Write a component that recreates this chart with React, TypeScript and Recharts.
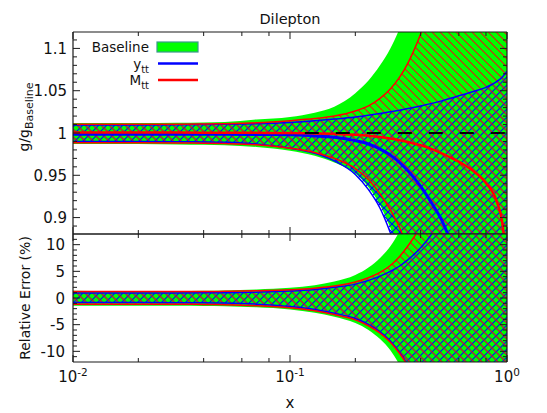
import React from 'react';
import { ComposedChart, Area, Line, XAxis, YAxis, ReferenceLine, Legend } from 'recharts';

// ---------- data ----------
const xValues = [0.01, 0.015, 0.02, 0.03, 0.04, 0.05, 0.07, 0.1, 0.13, 0.16, 0.2, 0.23, 0.26, 0.29, 0.32, 0.35, 0.4, 0.45, 0.5, 0.55, 0.6, 0.7, 0.8, 0.9, 0.95, 1.0];

// top panel: g / g_Baseline
const baselineUpper = [1.0118, 1.0118, 1.0118, 1.012, 1.0125, 1.013, 1.016, 1.019, 1.024, 1.031, 1.047, 1.062, 1.08, 1.1, 1.124, 1.155, 1.21, 1.27, 1.33, 1.4, 1.47, 1.6, 1.75, 1.9, 2.0, 2.1];
const baselineLower = [0.987, 0.987, 0.987, 0.9865, 0.986, 0.9855, 0.9835, 0.979, 0.973, 0.965, 0.952, 0.936, 0.915, 0.888, 0.86, 0.825, 0.77, 0.7, 0.63, 0.56, 0.49, 0.36, 0.24, 0.13, 0.08, 0.03];
const yttUpper = [1.0095, 1.0095, 1.0095, 1.0097, 1.01, 1.0103, 1.011, 1.0125, 1.0145, 1.0165, 1.019, 1.021, 1.023, 1.025, 1.027, 1.029, 1.032, 1.035, 1.038, 1.041, 1.044, 1.049, 1.054, 1.061, 1.066, 1.073];
const yttCentral = [0.9985, 0.9985, 0.9985, 0.9985, 0.9985, 0.9985, 0.9983, 0.998, 0.9965, 0.995, 0.991, 0.987, 0.981, 0.974, 0.965, 0.955, 0.937, 0.917, 0.897, 0.872, 0.845, 0.78, 0.7, 0.6, 0.55, 0.5];
const yttLower = [0.99, 0.99, 0.99, 0.9898, 0.9895, 0.989, 0.987, 0.982, 0.976, 0.967, 0.951, 0.933, 0.911, 0.882, 0.85, 0.81, 0.74, 0.66, 0.58, 0.5, 0.42, 0.3, 0.2, 0.1, 0.05, 0.0];
const mttUpper = [1.0102, 1.0102, 1.0102, 1.0104, 1.0107, 1.011, 1.012, 1.0145, 1.017, 1.02, 1.026, 1.032, 1.041, 1.052, 1.066, 1.083, 1.117, 1.155, 1.2, 1.25, 1.3, 1.4, 1.5, 1.6, 1.67, 1.75];
const mttCentral = [1.0005, 1.0005, 1.0005, 1.0005, 1.0004, 1.0003, 1.0002, 1.0, 0.9995, 0.999, 0.998, 0.9968, 0.9953, 0.9935, 0.9915, 0.9893, 0.9855, 0.981, 0.976, 0.971, 0.966, 0.955, 0.941, 0.918, 0.895, 0.84];
const mttLower = [0.9885, 0.9885, 0.9885, 0.9883, 0.988, 0.9875, 0.986, 0.982, 0.977, 0.97, 0.958, 0.945, 0.928, 0.909, 0.888, 0.863, 0.815, 0.76, 0.7, 0.64, 0.58, 0.46, 0.35, 0.25, 0.2, 0.15];

// bottom panel: relative error (%)
const errBaselineUpper = [1.35, 1.3, 1.3, 1.3, 1.35, 1.4, 1.6, 1.9, 2.4, 3.1, 4.3, 5.7, 7.5, 9.7, 12.5, 15.5, 21, 27, 33, 40, 47, 60, 75, 90, 98, 105];
const errBaselineLower = [-1.45, -1.45, -1.45, -1.45, -1.5, -1.55, -1.75, -2.15, -2.75, -3.5, -4.7, -6.0, -7.7, -9.8, -12.6, -16, -22, -29, -36, -43, -50, -64, -78, -90, -95, -100];
const errYttUpper = [0.95, 0.95, 0.95, 0.95, 0.97, 1.0, 1.1, 1.3, 1.6, 2.0, 2.6, 3.3, 4.1, 5.0, 6.0, 7.2, 9.4, 12.0, 15, 18, 21, 27, 33, 39, 42, 45];
const errYttLower = [-0.85, -0.85, -0.85, -0.87, -0.9, -0.95, -1.15, -1.6, -2.15, -2.85, -3.85, -4.95, -6.35, -8.05, -10.2, -12.6, -17.3, -23, -29, -35, -41, -53, -65, -77, -83, -89];
const errMttUpper = [1.2, 1.2, 1.2, 1.2, 1.2, 1.25, 1.35, 1.55, 1.85, 2.25, 3.0, 3.8, 4.8, 6.1, 7.8, 9.8, 13.5, 18, 22, 27, 32, 40, 50, 60, 65, 70];
const errMttLower = [-1.15, -1.15, -1.15, -1.15, -1.2, -1.25, -1.45, -1.85, -2.4, -3.1, -4.1, -5.2, -6.6, -8.3, -10.4, -12.8, -17.5, -23, -29, -35, -41, -53, -65, -77, -83, -89];

// ticks and labels
const X_TICKS = [0.01, 0.02, 0.04, 0.06, 0.08, 0.1, 0.2, 0.4, 0.6, 0.8, 1];
const X_MAJOR = [0.01, 0.1, 1];
const X_MAJOR_EXP = ['-2', '-1', '0'];
const TOP_Y_TICKS = [0.89, 0.9, 0.91, 0.92, 0.93, 0.94, 0.95, 0.96, 0.97, 0.98, 0.99, 1, 1.01, 1.02, 1.03, 1.04, 1.05, 1.06, 1.07, 1.08, 1.09, 1.1, 1.11];
const TOP_Y_MAJOR = [0.9, 0.95, 1, 1.05, 1.1];
const TOP_Y_LABELS = ['0.9', '0.95', '1', '1.05', '1.1'];
const BOT_Y_TICKS = [-11, -10, -9, -8, -7, -6, -5, -4, -3, -2, -1, 0, 1, 2, 3, 4, 5, 6, 7, 8, 9, 10, 11];
const BOT_Y_MAJOR = [-10, -5, 0, 5, 10];
const BOT_Y_LABELS = ['-10', '-5', '0', '5', '10'];
const LEGEND_ITEMS = [
  { name: 'Baseline', sub: '', kind: 'box', color: '#00ff00' },
  { name: 'y', sub: 'tt', kind: 'line', color: '#0000ff' },
  { name: 'M', sub: 'tt', kind: 'line', color: '#ff0000' },
];
const TITLE = 'Dilepton';
const DASH_FROM = 0.117;

// ---------- styling / layout ----------
const FONT = "'DejaVu Sans', Verdana, sans-serif";
const AX = '#1a1a1a';
const GREEN = '#00ff00';
const BLUE = '#0000ff';
const RED = '#ff0000';
const PLOT_L = 73;
const PLOT_R = 507;
const TOP_PLOT_T = 32;
const TOP_PLOT_B = 234;
const BOT_Y0 = 224; // page y of bottom chart
const BOT_PLOT_T = 234 - BOT_Y0;
const BOT_PLOT_B = 362 - BOT_Y0;
const TICK_FS = 15;

const topData = xValues.map((x, i) => ({
  x,
  g: [baselineLower[i], baselineUpper[i]],
  b: [yttLower[i], yttUpper[i]],
  r: [mttLower[i], mttUpper[i]],
  bU: yttUpper[i], bL: yttLower[i], bC: yttCentral[i],
  rU: mttUpper[i], rL: mttLower[i], rC: mttCentral[i],
}));

const botData = xValues.map((x, i) => ({
  x,
  g: [errBaselineLower[i], errBaselineUpper[i]],
  b: [errYttLower[i], errYttUpper[i]],
  r: [errMttLower[i], errMttUpper[i]],
  bU: errYttUpper[i], bL: errYttLower[i],
  rU: errMttUpper[i], rL: errMttLower[i],
}));

function makeXTick(axisY: number, dir: number, showLabel: boolean, labelY: number) {
  return (props: any) => {
    const x = props.x;
    const v = props.payload.value;
    const mi = X_MAJOR.indexOf(v);
    const len = mi >= 0 ? 7 : 4;
    return (
      <g>
        <line x1={x} x2={x} y1={axisY} y2={axisY + dir * len} stroke={AX} strokeWidth={1} />
        {showLabel && mi >= 0 && (
          <text x={x} y={labelY} textAnchor="middle" fontFamily={FONT} fontSize={TICK_FS} fill="#111">
            10<tspan dy={-6} fontSize={10.5}>{X_MAJOR_EXP[mi]}</tspan>
          </text>
        )}
      </g>
    );
  };
}

function makeYTick(axisX: number, dir: number, majors: number[], labels: string[] | null, labelX: number) {
  return (props: any) => {
    const y = props.y;
    const v = props.payload.value;
    const mi = majors.indexOf(v);
    const len = mi >= 0 ? 7 : 4;
    return (
      <g>
        <line x1={axisX} x2={axisX + dir * len} y1={y} y2={y} stroke={AX} strokeWidth={1} />
        {labels && mi >= 0 && (
          <text x={labelX} y={y + 5.5} textAnchor="end" fontFamily={FONT} fontSize={TICK_FS} fill="#111">
            {labels[mi]}
          </text>
        )}
      </g>
    );
  };
}

function Patterns({ suffix }: { suffix: string }) {
  return (
    <defs>
      <pattern id={'blueHatch' + suffix} patternUnits="userSpaceOnUse" width={8} height={8}>
        <path d="M-1,1 L1,-1 M0,8 L8,0 M7,9 L9,7" stroke={BLUE} strokeWidth={1.1} />
        <path d="M-1,7 L1,9 M0,0 L8,8 M7,-1 L9,1" stroke={BLUE} strokeWidth={1.1} />
      </pattern>
      <pattern id={'redHatch' + suffix} patternUnits="userSpaceOnUse" width={8} height={8}>
        <path d="M-1,7 L1,9 M0,0 L8,8 M7,-1 L9,1" stroke="#e01818" strokeWidth={1.1} />
      </pattern>
    </defs>
  );
}

const renderLegend = () => (
  <svg width={140} height={60} style={{ display: 'block' }}>
    {LEGEND_ITEMS.map((it, i) => {
      const cy = 11 + i * 16.5;
      return (
        <g key={it.name}>
          <text x={69} y={cy + 5} textAnchor="end" fontFamily={FONT} fontSize={13.5} fill="#111">
            {it.name}
            {it.sub && <tspan dy={4} fontSize={10}>{it.sub}</tspan>}
          </text>
          {it.kind === 'box' ? (
            <rect x={77} y={cy - 5} width={41} height={10} fill={it.color} stroke="#3a9a8a" strokeWidth={1.2} />
          ) : (
            <line x1={78} x2={118} y1={cy} y2={cy} stroke={it.color} strokeWidth={2.5} />
          )}
        </g>
      );
    })}
  </svg>
);

const titleLabel = () => (
  <text x={290} y={24} textAnchor="middle" fontFamily={FONT} fontSize={14.5} fill="#111">{TITLE}</text>
);
const topYLabel = () => (
  <text x={29} y={117} transform="rotate(-90, 29, 117)" textAnchor="middle" fontFamily={FONT} fontSize={14} fill="#111">
    g/g<tspan dy={4} fontSize={11}>Baseline</tspan>
  </text>
);
const botYLabel = () => (
  <text x={30} y={298 - BOT_Y0} transform={`rotate(-90, 30, ${298 - BOT_Y0})`} textAnchor="middle" fontFamily={FONT} fontSize={14} fill="#111">
    Relative Error (%)
  </text>
);
const xLabel = () => (
  <text x={290} y={408 - BOT_Y0} textAnchor="middle" fontFamily={FONT} fontSize={15} fill="#111">x</text>
);

const xAxisCommon = {
  dataKey: 'x',
  type: 'number' as const,
  scale: 'log' as const,
  domain: [0.01, 1],
  allowDataOverflow: true,
  ticks: X_TICKS,
  interval: 0,
  tickLine: false,
  axisLine: { stroke: AX, strokeWidth: 1.2 },
};

export default function App() {
  return (
    <div style={{ position: 'absolute', left: 0, top: 0, width: 547, height: 413, background: '#fff' }}>
      <div style={{ position: 'absolute', left: 0, top: 0 }}>
        <ComposedChart width={547} height={242} data={topData} margin={{ top: 0, right: 0, bottom: 0, left: 0 }}>
          <Patterns suffix="T" />
          <XAxis xAxisId="b" orientation="bottom" height={242 - TOP_PLOT_B} {...xAxisCommon} tick={makeXTick(TOP_PLOT_B, -1, false, 0)} />
          <XAxis xAxisId="t" orientation="top" height={TOP_PLOT_T} {...xAxisCommon} tick={makeXTick(TOP_PLOT_T, 1, false, 0)} label={titleLabel} />
          <YAxis yAxisId="l" orientation="left" width={PLOT_L} type="number" domain={[0.8806, 1.1194]} allowDataOverflow ticks={TOP_Y_TICKS} interval={0} tickLine={false} axisLine={{ stroke: AX, strokeWidth: 1.2 }} tick={makeYTick(PLOT_L, 1, TOP_Y_MAJOR, TOP_Y_LABELS, 67)} label={topYLabel} />
          <YAxis yAxisId="r" orientation="right" width={547 - PLOT_R} type="number" domain={[0.8806, 1.1194]} allowDataOverflow ticks={TOP_Y_TICKS} interval={0} tickLine={false} axisLine={{ stroke: AX, strokeWidth: 1.2 }} tick={makeYTick(PLOT_R, -1, TOP_Y_MAJOR, null, 0)} />
          <Area xAxisId="b" yAxisId="l" dataKey="g" type="monotone" fill={GREEN} fillOpacity={1} stroke="none" isAnimationActive={false} />
          <Area xAxisId="b" yAxisId="l" dataKey="b" type="monotone" fill="url(#blueHatchT)" fillOpacity={1} stroke="none" isAnimationActive={false} />
          <Area xAxisId="b" yAxisId="l" dataKey="r" type="monotone" fill="url(#redHatchT)" fillOpacity={1} stroke="none" isAnimationActive={false} />
          <Line xAxisId="b" yAxisId="l" dataKey="bU" type="monotone" stroke={BLUE} strokeWidth={1.5} dot={false} isAnimationActive={false} />
          <Line xAxisId="b" yAxisId="l" dataKey="bL" type="monotone" stroke={BLUE} strokeWidth={1.5} dot={false} isAnimationActive={false} />
          <Line xAxisId="b" yAxisId="l" dataKey="rU" type="monotone" stroke={RED} strokeWidth={1.5} dot={false} isAnimationActive={false} />
          <Line xAxisId="b" yAxisId="l" dataKey="rL" type="monotone" stroke={RED} strokeWidth={1.5} dot={false} isAnimationActive={false} />
          <Line xAxisId="b" yAxisId="l" dataKey="bC" type="monotone" stroke={BLUE} strokeWidth={3} dot={false} isAnimationActive={false} />
          <Line xAxisId="b" yAxisId="l" dataKey="rC" type="monotone" stroke={RED} strokeWidth={2.5} dot={false} isAnimationActive={false} />
          <ReferenceLine xAxisId="b" yAxisId="l" segment={[{ x: DASH_FROM, y: 1 }, { x: 1, y: 1 }]} stroke="#000" strokeWidth={2} strokeDasharray="14 17" />
          <Legend layout="horizontal" verticalAlign="middle" align="center" content={renderLegend} wrapperStyle={{ position: 'absolute', left: 80, top: 36, width: 140, height: 60 }} />
        </ComposedChart>
      </div>
      <div style={{ position: 'absolute', left: 0, top: BOT_Y0 }}>
        <ComposedChart width={547} height={413 - BOT_Y0} data={botData} margin={{ top: 0, right: 0, bottom: 0, left: 0 }}>
          <Patterns suffix="B" />
          <XAxis xAxisId="b" orientation="bottom" height={413 - BOT_Y0 - BOT_PLOT_B} {...xAxisCommon} tick={makeXTick(BOT_PLOT_B, -1, true, 382 - BOT_Y0)} label={xLabel} />
          <XAxis xAxisId="t" orientation="top" height={BOT_PLOT_T} {...xAxisCommon} tick={makeXTick(BOT_PLOT_T, 1, false, 0)} />
          <YAxis yAxisId="l" orientation="left" width={PLOT_L} type="number" domain={[-12, 12]} allowDataOverflow ticks={BOT_Y_TICKS} interval={0} tickLine={false} axisLine={{ stroke: AX, strokeWidth: 1.2 }} tick={makeYTick(PLOT_L, 1, BOT_Y_MAJOR, BOT_Y_LABELS, 65)} label={botYLabel} />
          <YAxis yAxisId="r" orientation="right" width={547 - PLOT_R} type="number" domain={[-12, 12]} allowDataOverflow ticks={BOT_Y_TICKS} interval={0} tickLine={false} axisLine={{ stroke: AX, strokeWidth: 1.2 }} tick={makeYTick(PLOT_R, -1, BOT_Y_MAJOR, null, 0)} />
          <Area xAxisId="b" yAxisId="l" dataKey="g" type="monotone" fill={GREEN} fillOpacity={1} stroke="none" isAnimationActive={false} />
          <Area xAxisId="b" yAxisId="l" dataKey="b" type="monotone" fill="url(#blueHatchB)" fillOpacity={1} stroke="none" isAnimationActive={false} />
          <Area xAxisId="b" yAxisId="l" dataKey="r" type="monotone" fill="url(#redHatchB)" fillOpacity={1} stroke="none" isAnimationActive={false} />
          <Line xAxisId="b" yAxisId="l" dataKey="bU" type="monotone" stroke={BLUE} strokeWidth={1.5} dot={false} isAnimationActive={false} />
          <Line xAxisId="b" yAxisId="l" dataKey="bL" type="monotone" stroke={BLUE} strokeWidth={1.5} dot={false} isAnimationActive={false} />
          <Line xAxisId="b" yAxisId="l" dataKey="rU" type="monotone" stroke={RED} strokeWidth={1.5} dot={false} isAnimationActive={false} />
          <Line xAxisId="b" yAxisId="l" dataKey="rL" type="monotone" stroke={RED} strokeWidth={1.5} dot={false} isAnimationActive={false} />
        </ComposedChart>
      </div>
    </div>
  );
}
